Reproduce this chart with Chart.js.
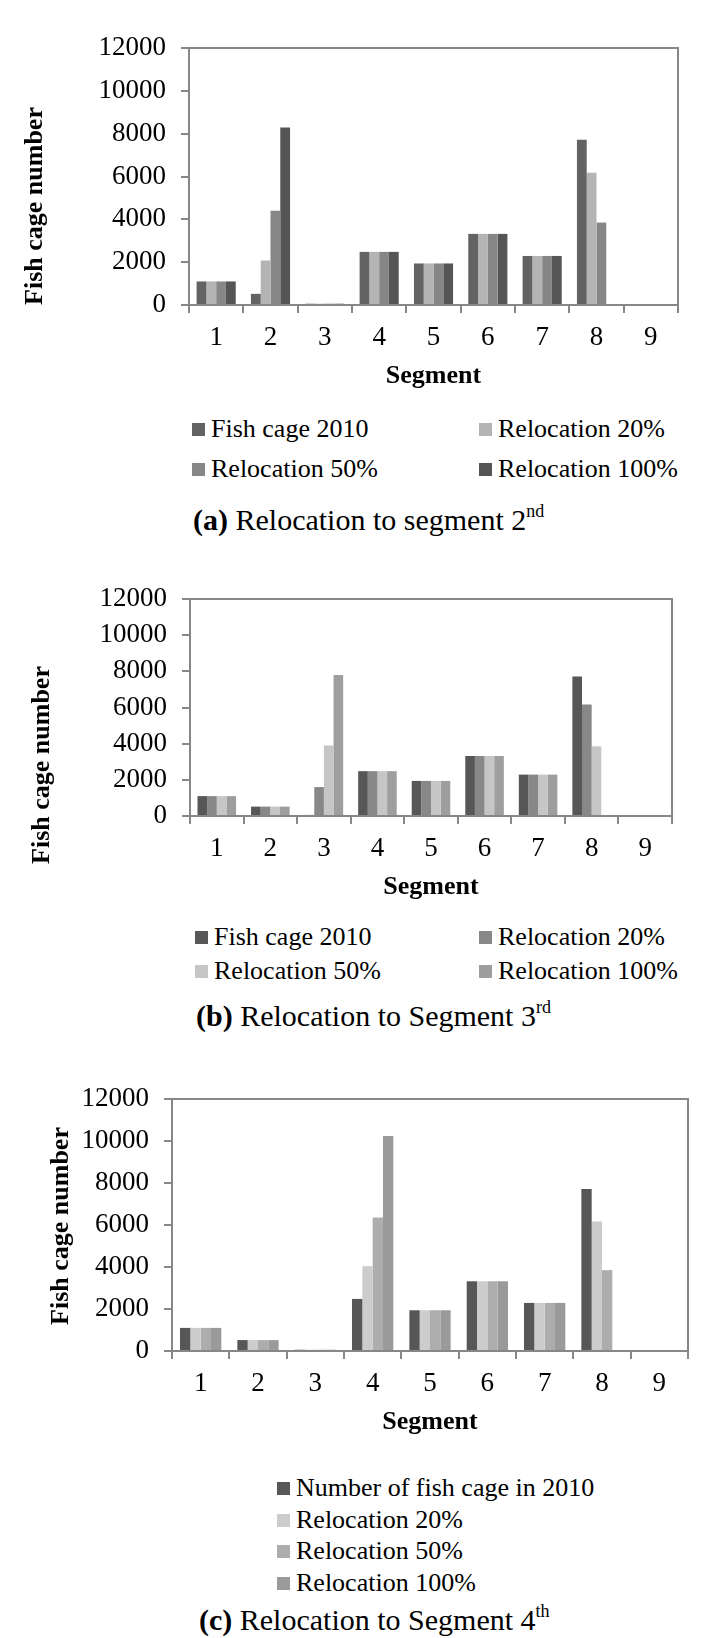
<!DOCTYPE html>
<html>
<head>
<meta charset="utf-8">
<script src="https://cdn.jsdelivr.net/npm/chart.js@4.4.1/dist/chart.umd.min.js"></script>
<style>
  body { margin: 0; background: #fff; }
  #page { position: relative; width: 724px; height: 1638px; overflow: hidden;
          font-family: 'Liberation Serif', 'Times New Roman', serif; color: #000; }
  canvas { position: absolute; left: 0; }
  .item { position: absolute; display: flex; align-items: center; font-size: 26px; line-height: 30px; white-space: nowrap; }
  .box { width: 13px; height: 13px; margin-right: 6px; }
  .cap { position: absolute; font-size: 30px; line-height: 34px; white-space: nowrap; }
  .cap sup { font-size: 18px; line-height: 1; vertical-align: top; position: relative; top: -1px; }
</style>
</head>
<body>
<div id="page"></div>
<script>
// segments on the x axis
const segments = ['1', '2', '3', '4', '5', '6', '7', '8', '9'];
const yMax = 12000;
const yStep = 2000;
const yTitle = 'Fish cage number';
const xTitle = 'Segment';

// (a) relocation to segment 2
const aFish2010 = [1100, 520, 60, 2480, 1940, 3320, 2290, 7720, 0];
const aReloc20  = [1100, 2080, 60, 2480, 1940, 3320, 2290, 6170, 0];
const aReloc50  = [1100, 4400, 60, 2480, 1940, 3320, 2290, 3850, 0];
const aReloc100 = [1100, 8290, 60, 2480, 1940, 3320, 2290, 0, 0];

// (b) relocation to segment 3
const bFish2010 = [1100, 520, 60, 2480, 1940, 3320, 2290, 7720, 0];
const bReloc20  = [1100, 520, 1600, 2480, 1940, 3320, 2290, 6170, 0];
const bReloc50  = [1100, 520, 3900, 2480, 1940, 3320, 2290, 3850, 0];
const bReloc100 = [1100, 520, 7800, 2480, 1940, 3320, 2290, 0, 0];

// (c) relocation to segment 4
const cFish2010 = [1100, 520, 60, 2480, 1940, 3320, 2290, 7720, 0];
const cReloc20  = [1100, 520, 60, 4040, 1940, 3320, 2290, 6170, 0];
const cReloc50  = [1100, 520, 60, 6360, 1940, 3320, 2290, 3850, 0];
const cReloc100 = [1100, 520, 60, 10240, 1940, 3320, 2290, 0, 0];

const labelsAB = ['Fish cage 2010', 'Relocation 20%', 'Relocation 50%', 'Relocation 100%'];
const labelsC = ['Number of fish cage in 2010', 'Relocation 20%', 'Relocation 50%', 'Relocation 100%'];

const AXIS = '#878787';
const FONT = "'Liberation Serif', 'Times New Roman', serif";

const panels = [
  { top: 0, height: 395, padTop: 48, yWidth: 189, padRight: 46, titleX: 35, titleY: 206,
    data: [aFish2010, aReloc20, aReloc50, aReloc100], labels: labelsAB,
    colors: ['#636363', '#b4b4b4', '#868686', '#555555'],
    legend: [[192, 429], [479, 429], [192, 469], [479, 469]],
    cap: [193, 520, '<b>(a)</b> Relocation to segment 2<sup>nd</sup>'] },
  { top: 540, height: 366, padTop: 59, yWidth: 190, padRight: 52, titleX: 42, titleY: 765 - 540,
    data: [bFish2010, bReloc20, bReloc50, bReloc100], labels: labelsAB,
    colors: ['#575757', '#888888', '#c6c6c6', '#9e9e9e'],
    legend: [[195, 937], [479, 937], [195, 971], [479, 971]],
    cap: [196, 1016, '<b>(b)</b> Relocation to Segment 3<sup>rd</sup>'] },
  { top: 1060, height: 381, padTop: 39, yWidth: 172, padRight: 36, titleX: 61, titleY: 1226 - 1060,
    data: [cFish2010, cReloc20, cReloc50, cReloc100], labels: labelsC,
    colors: ['#575757', '#cccccc', '#adadad', '#9a9a9a'],
    legend: [[277, 1488], [277, 1520], [277, 1551], [277, 1583]],
    cap: [199, 1620, '<b>(c)</b> Relocation to Segment 4<sup>th</sup>'] }
];

const frame = {
  id: 'frame',
  afterDraw(chart, args, opts) {
    const { ctx, chartArea: a } = chart;
    ctx.save();
    ctx.strokeStyle = AXIS;
    ctx.lineWidth = 2;
    ctx.beginPath();
    ctx.moveTo(a.left, a.top);
    ctx.lineTo(a.right, a.top);
    ctx.lineTo(a.right, a.bottom);
    ctx.stroke();
    ctx.translate(opts.x, opts.y);
    ctx.rotate(-Math.PI / 2);
    ctx.font = 'bold 26px ' + FONT;
    ctx.fillStyle = '#000';
    ctx.textAlign = 'center';
    ctx.textBaseline = 'middle';
    ctx.fillText(yTitle, 0, 0);
    ctx.restore();
  }
};

const page = document.getElementById('page');

panels.forEach(p => {
  const canvas = document.createElement('canvas');
  canvas.width = 724;
  canvas.height = p.height;
  canvas.style.top = p.top + 'px';
  page.appendChild(canvas);

  new Chart(canvas, {
    type: 'bar',
    data: {
      labels: segments,
      datasets: p.data.map((d, i) => ({
        label: p.labels[i],
        data: d,
        backgroundColor: p.colors[i],
        categoryPercentage: 0.72,
        barPercentage: 1
      }))
    },
    options: {
      responsive: false,
      animation: false,
      devicePixelRatio: 1,
      layout: { padding: { top: p.padTop, right: p.padRight, left: 0, bottom: 0 } },
      plugins: {
        legend: { display: false },
        tooltip: { enabled: false },
        frame: { x: p.titleX, y: p.titleY }
      },
      scales: {
        x: {
          grid: { display: true, drawOnChartArea: false, tickLength: 8, color: AXIS, lineWidth: 2, offset: true },
          border: { color: AXIS, width: 2 },
          ticks: { font: { family: FONT, size: 27 }, color: '#000', padding: 9, maxRotation: 0, autoSkip: false },
          title: { display: true, text: xTitle, color: '#000',
                   font: { family: FONT, size: 26, weight: 'bold' }, padding: { top: 0, bottom: 3 } },
          afterFit: s => { s.height = 90; }
        },
        y: {
          min: 0,
          max: yMax,
          ticks: { stepSize: yStep, font: { family: FONT, size: 27 }, color: '#000', padding: 15,
                   callback: v => String(v) },
          grid: { display: true, drawOnChartArea: false, tickLength: 8, color: AXIS, lineWidth: 2 },
          border: { color: AXIS, width: 2 },
          afterFit: s => { s.width = p.yWidth; }
        }
      }
    },
    plugins: [frame]
  });

  // legend entries
  p.legend.forEach(([x, cy], i) => {
    const item = document.createElement('div');
    item.className = 'item';
    item.style.left = x + 'px';
    item.style.top = (cy - 15) + 'px';
    item.innerHTML = '<span class="box" style="background:' + p.colors[i] + '"></span>' + p.labels[i];
    page.appendChild(item);
  });

  const cap = document.createElement('div');
  cap.className = 'cap';
  cap.style.left = p.cap[0] + 'px';
  cap.style.top = (p.cap[1] - 17) + 'px';
  cap.innerHTML = p.cap[2];
  page.appendChild(cap);
});
</script>
</body>
</html>
